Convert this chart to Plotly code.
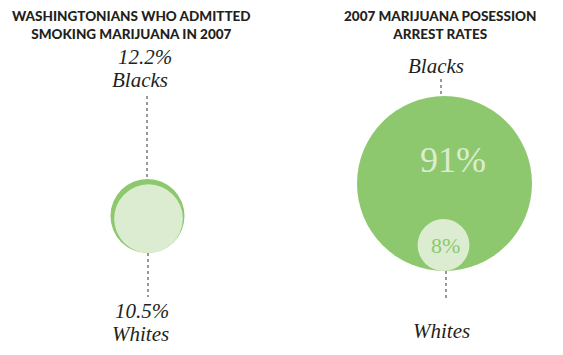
import plotly.graph_objects as go
import math

# ---- data ----
left_title = "WASHINGTONIANS WHO ADMITTED<br>SMOKING MARIJUANA IN 2007"
right_title = "2007 MARIJUANA POSESSION<br>ARREST RATES"
groups = ["Blacks", "Whites"]
smoking_pct = [12.2, 10.5]
arrest_pct = [91, 8]

DARK = "#8dc86e"
LIGHT = "#dcecd1"
TXT = "#231f20"

fig = go.Figure()
shapes = []
ann = []

def circle(cx, cy, r, color):
    return dict(type="circle", xref="x", yref="y", x0=cx - r, x1=cx + r,
                y0=cy - r, y1=cy + r, fillcolor=color, line=dict(width=0), layer="above")

def dotline(x, y0, y1):
    return dict(type="line", xref="x", yref="y", x0=x, x1=x, y0=y0, y1=y1,
                line=dict(color="#333333", width=1, dash="dot"), layer="above")

# ---- left chart: bottom-aligned circles, area proportional ----
kL = 37 / math.sqrt(max(smoking_pct))
rB = kL * math.sqrt(smoking_pct[0])
rW = kL * math.sqrt(smoking_pct[1])
cxL, bottomL = 147.5, 253
shapes.append(circle(cxL, bottomL - rB, rB, DARK))
shapes.append(circle(cxL + 1, bottomL - rW, rW, LIGHT))
shapes.append(dotline(147, 96, bottomL - 2 * rB))
shapes.append(dotline(148, bottomL, 297))

# ---- right chart ----
kR = 87.5 / math.sqrt(max(arrest_pct))
RB = kR * math.sqrt(arrest_pct[0])
RW = kR * math.sqrt(arrest_pct[1])
cxR, bottomR = 444.5, 271
shapes.append(circle(cxR, bottomR - RB, RB, DARK))
shapes.append(circle(cxR - 1, bottomR - RW, RW, LIGHT))
shapes.append(dotline(441, 79, bottomR - 2 * RB))
shapes.append(dotline(446, bottomR, 300))

TITLE_FONT = dict(family="Lato", size=13.5, color=TXT, weight=900)
SERIF_IT = dict(family="Liberation Serif", size=21, color=TXT, style="italic")

def a(x, y, text, font, **kw):
    d = dict(x=x, y=y, xref="x", yref="y", text=text, showarrow=False, font=font,
             xanchor="center", yanchor="middle")
    d.update(kw)
    ann.append(d)

a(131, 25, left_title, TITLE_FONT)
a(440, 25, right_title, TITLE_FONT)

a(145, 57, f"{smoking_pct[0]}%", SERIF_IT)
a(140, 80, groups[0], SERIF_IT)
a(142, 311, f"{smoking_pct[1]}%", SERIF_IT)
a(140, 334, groups[1], SERIF_IT)

a(436, 66, groups[0], SERIF_IT)
a(441, 331, groups[1], SERIF_IT)
a(453, 160, f"{arrest_pct[0]}%", dict(family="Liberation Serif", size=36, color=LIGHT))
a(445, 245, f"{arrest_pct[1]}%", dict(family="Liberation Serif", size=22, color=DARK))

fig.update_layout(
    width=563, height=355, margin=dict(l=0, r=0, t=0, b=0),
    paper_bgcolor="white", plot_bgcolor="white",
    xaxis=dict(range=[0, 563], visible=False, fixedrange=True),
    yaxis=dict(range=[355, 0], visible=False, fixedrange=True),
    shapes=shapes, annotations=ann, showlegend=False,
)
fig.write_html("out.html", config={"displayModeBar": False},
               post_script="document.body.style.margin='0';document.body.style.overflow='hidden';")
